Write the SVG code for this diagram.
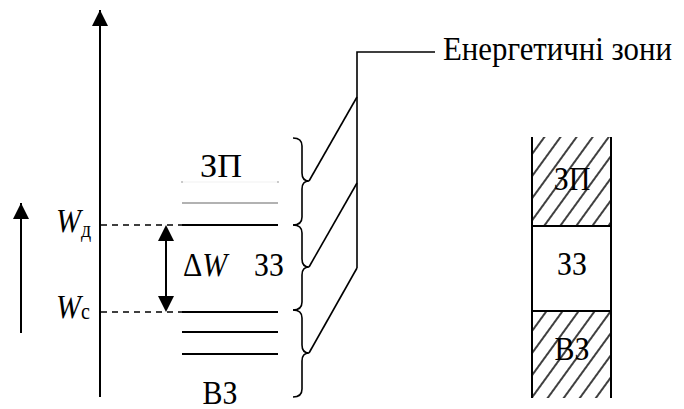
<svg xmlns="http://www.w3.org/2000/svg" width="684" height="409" viewBox="0 0 684 409">
<style>
.ln{stroke:#000;stroke-width:2;fill:none}
.th{stroke:#000;stroke-width:1.6;fill:none}
.dash{stroke:#000;stroke-width:1.6;stroke-dasharray:6 5;fill:none}
.t{font-family:"Liberation Serif","DejaVu Serif",serif;font-size:30px;fill:#000}
.i{font-style:italic}
</style>
<defs>
<marker id="ah" viewBox="0 0 16 16" refX="16" refY="8" markerWidth="16" markerHeight="16" markerUnits="userSpaceOnUse" orient="auto-start-reverse">
<path d="M0,0 L16,8 L0,16 Z" fill="#000"/>
</marker>
<pattern id="hatch" patternUnits="userSpaceOnUse" width="13" height="13" patternTransform="rotate(36)">
<line x1="1" y1="0" x2="1" y2="13" stroke="#000" stroke-width="1.5"/>
</pattern>
</defs>

<g id="axis">
<line class="ln" x1="100" y1="397" x2="100" y2="10" marker-end="url(#ah)"/>
</g>
<g id="energy-arrow">
<line class="ln" x1="21" y1="333" x2="21" y2="203" marker-end="url(#ah)"/>
</g>

<g id="levels">
<line x1="182" y1="182" x2="278" y2="182" stroke="#000" stroke-opacity="0.04" stroke-width="1.5"/>
<circle cx="182" cy="182" r="1" fill="#bbb"/>
<circle cx="278" cy="182" r="1" fill="#bbb"/>
<line x1="182" y1="203" x2="278" y2="203" stroke="#999" stroke-width="1.6"/>
<line class="ln" x1="182" y1="225" x2="278" y2="225"/>
<line class="ln" x1="182" y1="312" x2="278" y2="312"/>
<line class="ln" x1="182" y1="332" x2="278" y2="332"/>
<line class="ln" x1="182" y1="354" x2="278" y2="354"/>
</g>

<g id="connectors">
<line class="dash" x1="101" y1="225" x2="182" y2="225"/>
<line class="dash" x1="101" y1="312" x2="182" y2="312"/>
<line class="ln" x1="166" y1="240" x2="166" y2="296"/>
<path d="M158,241 L166,225 L174,241 Z" fill="#000"/>
<path d="M158,296 L166,312 L174,296 Z" fill="#000"/>
<path class="th" d="M293,138 C300,138 302,141 302,146 L302,173 C302,178 304,181 309,181 C304,181 302,184 302,189 L302,217 C302,222 300,225 293,225"/>
<path class="th" d="M293,225 C300,225 302,228 302,233 L302,259 C302,264 304,267 309,267 C304,267 302,270 302,275 L302,302 C302,307 300,310 293,310"/>
<path class="th" d="M293,310 C300,310 302,313 302,318 L302,345 C302,350 304,353 309,353 C304,353 302,356 302,361 L302,389 C302,394 300,397 293,397"/>
<line class="th" x1="309" y1="181" x2="357" y2="97"/>
<line class="th" x1="309" y1="267" x2="357" y2="183"/>
<line class="th" x1="309" y1="353" x2="357" y2="268"/>
<polyline class="th" points="357,268 357,52 435,52"/>
</g>

<g id="labels">
<g transform="translate(0,177) scale(1,1.15)"><text class="t" font-family="Liberation Serif, serif" x="221" y="0" text-anchor="middle" textLength="42" lengthAdjust="spacingAndGlyphs">ЗП</text></g>
<g transform="translate(0,404) scale(1,1.15)"><text class="t" font-family="Liberation Serif, serif" x="220" y="0" text-anchor="middle">ВЗ</text></g>
<g transform="translate(0,276) scale(1,1.15)"><text class="t" font-family="Liberation Serif, serif" x="183" y="0">Δ<tspan class="i">W</tspan></text></g>
<g transform="translate(0,276) scale(1,1.15)"><text class="t" font-family="Liberation Serif, serif" x="269" y="0" text-anchor="middle">ЗЗ</text></g>
<g transform="translate(0,232) scale(1,1.15)"><text class="t i" font-family="Liberation Serif, serif" x="56" y="0">W<tspan font-size="20" font-style="normal" dy="4">д</tspan></text></g>
<g transform="translate(0,318) scale(1,1.15)"><text class="t i" font-family="Liberation Serif, serif" x="56" y="0">W<tspan font-size="20" font-style="normal" dy="1">с</tspan></text></g>
<g transform="translate(0,60) scale(1,1.15)"><text class="t" font-family="Liberation Serif, serif" x="443" y="0" textLength="229" lengthAdjust="spacingAndGlyphs">Енергетичні зони</text></g>
</g>

<g id="zone-column">
<rect x="532" y="137" width="79" height="89" fill="url(#hatch)"/>
<rect x="532" y="311" width="79" height="87" fill="url(#hatch)"/>
<line class="ln" x1="532" y1="137" x2="532" y2="398"/>
<line class="ln" x1="611" y1="137" x2="611" y2="398"/>
<line class="ln" x1="532" y1="226" x2="611" y2="226"/>
<line class="ln" x1="532" y1="311" x2="611" y2="311"/>
<g transform="translate(0,190) scale(1,1.15)"><text class="t" font-family="Liberation Serif, serif" x="572" y="0" text-anchor="middle">ЗП</text></g>
<g transform="translate(0,275) scale(1,1.15)"><text class="t" font-family="Liberation Serif, serif" x="572" y="0" text-anchor="middle">ЗЗ</text></g>
<g transform="translate(0,360) scale(1,1.15)"><text class="t" font-family="Liberation Serif, serif" x="572" y="0" text-anchor="middle">ВЗ</text></g>
</g>
</svg>
